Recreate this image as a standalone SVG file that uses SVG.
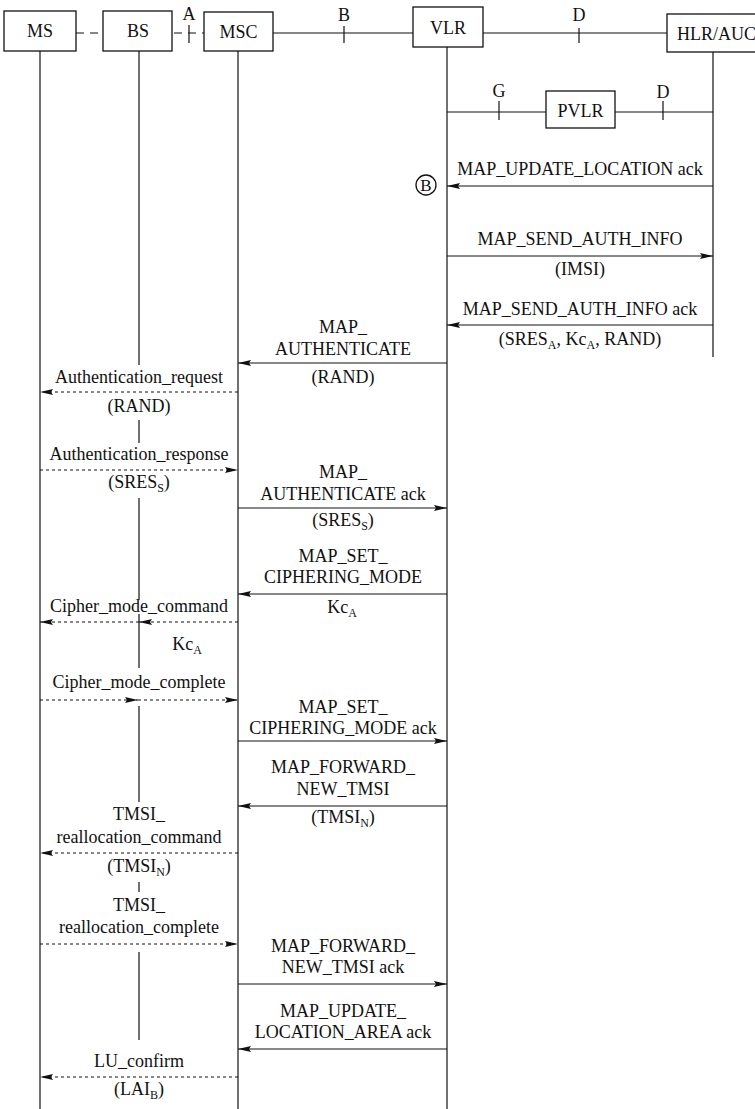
<svg xmlns="http://www.w3.org/2000/svg" width="755" height="1109" viewBox="0 0 755 1109">
  <defs>
    <style>
      text{font-family:"Liberation Serif","Times New Roman",serif;font-size:18px;fill:#111;text-anchor:middle}
      .box{fill:#fff;stroke:#111;stroke-width:1.3}
      .life{stroke:#111;stroke-width:1.2;fill:none}
      .link{stroke:#111;stroke-width:1.2;fill:none}
      .ld{stroke-dasharray:8 6}
      .tick{stroke:#111;stroke-width:1.2}
      .msg{stroke:#111;stroke-width:1;fill:none;marker-end:url(#ah)}
      .dash{stroke-dasharray:3 3}
      .sub{font-size:12px}
    </style>
    <marker id="ah" markerUnits="userSpaceOnUse" markerWidth="14" markerHeight="8" refX="13" refY="4" orient="auto">
      <path d="M0,1 L13,4 L0,7 L2,4 z" fill="#111"/>
    </marker>
  </defs>
  <rect width="755" height="1109" fill="#fff"/>

  <!-- interfaces between the network elements -->
  <g id="links">
    <line class="link ld" x1="76" y1="33" x2="103" y2="33"/>
    <line class="link ld" x1="174" y1="33" x2="204" y2="33" stroke-dasharray="8 6 0 10 3 4"/>
    <line class="tick" x1="189" y1="25" x2="189" y2="43"/>
    <text x="189" y="20">A</text>
    <line class="link" x1="273" y1="33" x2="413" y2="33"/>
    <line class="tick" x1="344" y1="26" x2="344" y2="43"/>
    <text x="344" y="21">B</text>
    <line class="link" x1="483" y1="33" x2="667" y2="33"/>
    <line class="tick" x1="579" y1="28" x2="579" y2="43"/>
    <text x="579" y="21">D</text>
    <line class="link" x1="447" y1="112" x2="546" y2="112"/>
    <line class="link" x1="615" y1="112" x2="713" y2="112"/>
    <line class="tick" x1="499" y1="101" x2="499" y2="120"/>
    <text x="499" y="97">G</text>
    <line class="tick" x1="663" y1="101" x2="663" y2="120"/>
    <text x="663" y="98">D</text>
  </g>

  <!-- network elements with their lifelines -->
  <g id="ms">
    <line class="life" x1="40" y1="51" x2="40" y2="1109"/>
    <rect class="box" x="4" y="11" width="72" height="40"/>
    <text x="40" y="37">MS</text>
  </g>
  <g id="bs">
    <path class="life" d="M139,51 V365 M139,420 V443 M139,498 V600 M139,614 V668 M139,706 V802 M139,882 V892 M139,952 V1040"/>
    <rect class="box" x="103" y="11" width="69" height="40"/>
    <text x="138" y="37">BS</text>
  </g>
  <g id="msc">
    <line class="life" x1="238" y1="51" x2="238" y2="1109"/>
    <rect class="box" x="204" y="12" width="69" height="39"/>
    <text x="238.5" y="38">MSC</text>
  </g>
  <g id="vlr">
    <line class="life" x1="447" y1="47" x2="447" y2="1109"/>
    <rect class="box" x="413" y="7" width="70" height="40"/>
    <text x="448" y="34">VLR</text>
  </g>
  <g id="hlr">
    <line class="life" x1="713" y1="52" x2="713" y2="357"/>
    <rect class="box" x="667" y="14" width="100" height="38"/>
    <text x="677" y="40" style="text-anchor:start">HLR/AUC</text>
  </g>
  <g id="pvlr">
    <rect class="box" x="546" y="91" width="69" height="37"/>
    <text x="580.5" y="117">PVLR</text>
  </g>
  <g id="marker-b">
    <circle cx="426" cy="185" r="10" fill="none" stroke="#111" stroke-width="1.3"/>
    <text x="426" y="191" style="font-size:17px">B</text>
  </g>

  <!-- signalling messages -->
  <g id="messages">
    <!-- VLR / HLR -->
    <line class="msg" x1="713" y1="186" x2="447" y2="186"/>
    <text x="580" y="175">MAP_UPDATE_LOCATION ack</text>
    <line class="msg" x1="447" y1="256" x2="713" y2="256"/>
    <text x="580" y="245">MAP_SEND_AUTH_INFO</text>
    <text x="580" y="275">(IMSI)</text>
    <line class="msg" x1="713" y1="325" x2="447" y2="325"/>
    <text x="580" y="315">MAP_SEND_AUTH_INFO ack</text>
    <text x="580" y="345">(SRES<tspan class="sub" dy="4">A</tspan><tspan dy="-4">, Kc</tspan><tspan class="sub" dy="4">A</tspan><tspan dy="-4">, RAND)</tspan></text>

    <!-- MSC / VLR -->
    <line class="msg" x1="447" y1="363" x2="238" y2="363"/>
    <text x="343" y="333">MAP_</text>
    <text x="343" y="355">AUTHENTICATE</text>
    <text x="343" y="383">(RAND)</text>

    <line class="msg" x1="238" y1="508" x2="447" y2="508"/>
    <text x="343" y="478">MAP_</text>
    <text x="343" y="500">AUTHENTICATE ack</text>
    <text x="343" y="526">(SRES<tspan class="sub" dy="4">S</tspan><tspan dy="-4">)</tspan></text>

    <line class="msg" x1="447" y1="594" x2="238" y2="594"/>
    <text x="343" y="562">MAP_SET_</text>
    <text x="343" y="583">CIPHERING_MODE</text>
    <text x="342" y="613">Kc<tspan class="sub" dy="4">A</tspan></text>

    <line class="msg" x1="238" y1="741" x2="447" y2="741"/>
    <text x="343" y="713">MAP_SET_</text>
    <text x="343" y="734">CIPHERING_MODE ack</text>

    <line class="msg" x1="447" y1="806" x2="238" y2="806"/>
    <text x="343" y="773">MAP_FORWARD_</text>
    <text x="343" y="795">NEW_TMSI</text>
    <text x="343" y="823">(TMSI<tspan class="sub" dy="4">N</tspan><tspan dy="-4">)</tspan></text>

    <line class="msg" x1="238" y1="984" x2="447" y2="984"/>
    <text x="343" y="952">MAP_FORWARD_</text>
    <text x="343" y="973">NEW_TMSI ack</text>

    <line class="msg" x1="447" y1="1049" x2="238" y2="1049"/>
    <text x="343" y="1017">MAP_UPDATE_</text>
    <text x="343" y="1038">LOCATION_AREA ack</text>

    <!-- MS / BS / MSC -->
    <line class="msg dash" x1="238" y1="392" x2="40" y2="392"/>
    <text x="139" y="383">Authentication_request</text>
    <text x="139" y="412">(RAND)</text>

    <line class="msg dash" x1="40" y1="470" x2="238" y2="470"/>
    <text x="139" y="460">Authentication_response</text>
    <text x="139" y="488">(SRES<tspan class="sub" dy="4">S</tspan><tspan dy="-4">)</tspan></text>

    <line class="msg dash" x1="238" y1="622" x2="139" y2="622"/>
    <line class="msg dash" x1="139" y1="622" x2="40" y2="622"/>
    <text x="139" y="612">Cipher_mode_command</text>
    <text x="187" y="650">Kc<tspan class="sub" dy="4">A</tspan></text>

    <line class="msg dash" x1="40" y1="700" x2="138" y2="700"/>
    <line class="msg dash" x1="138" y1="700" x2="238" y2="700"/>
    <text x="139" y="688">Cipher_mode_complete</text>

    <line class="msg dash" x1="238" y1="853" x2="40" y2="853"/>
    <text x="139" y="820">TMSI_</text>
    <text x="139" y="843">reallocation_command</text>
    <text x="139" y="872">(TMSI<tspan class="sub" dy="4">N</tspan><tspan dy="-4">)</tspan></text>

    <line class="msg dash" x1="40" y1="944" x2="238" y2="944"/>
    <text x="139" y="911">TMSI_</text>
    <text x="139" y="933">reallocation_complete</text>

    <line class="msg dash" x1="238" y1="1077" x2="40" y2="1077"/>
    <text x="139" y="1067">LU_confirm</text>
    <text x="139" y="1095">(LAI<tspan class="sub" dy="4">B</tspan><tspan dy="-4">)</tspan></text>
  </g>
</svg>
